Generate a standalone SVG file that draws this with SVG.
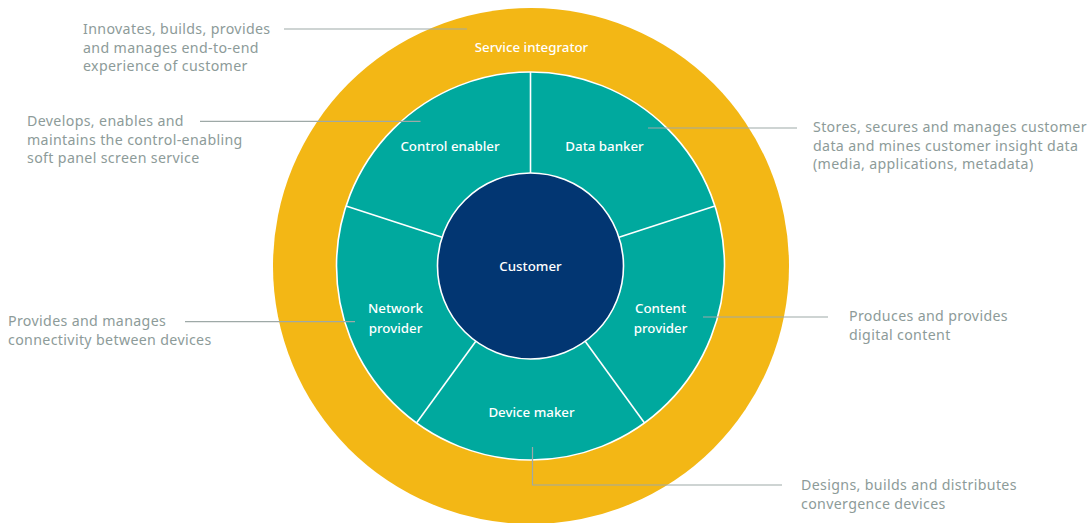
<svg xmlns="http://www.w3.org/2000/svg" width="1087" height="523" viewBox="0 0 1087 523">
  <style>
    .desc { font-family: "Noto Sans", "Liberation Sans", sans-serif; font-size: 14.2px; letter-spacing: 0.35px; fill: #8D9B99; }
    .label { font-family: "Noto Sans", "Liberation Sans", sans-serif; font-size: 13.3px; font-weight: 500; fill: #FFFFFF; text-anchor: middle; }
    .leader { stroke: #9EA9A7; stroke-width: 1.2; fill: none; }
    .divider { stroke: #FFFFFF; stroke-width: 1.6; }
  </style>
  <rect width="1087" height="523" fill="#FFFFFF"/>

  <!-- Outer ring: service integrator -->
  <g id="service-integrator">
    <circle cx="531" cy="266" r="258" fill="#F3B715"/>
    <text class="label" x="531.5" y="51.5">Service integrator</text>
  </g>

  <!-- Middle ring of five roles -->
  <g id="role-ring">
    <circle cx="530.5" cy="266" r="194" fill="#00A99E" stroke="#FFFFFF" stroke-width="1.6"/>
    <line class="divider" x1="530.5" y1="173" x2="530.5" y2="72"/>
    <line class="divider" x1="618.95" y1="237.26" x2="715" y2="206.05"/>
    <line class="divider" x1="585.17" y1="341.24" x2="644.53" y2="422.95"/>
    <line class="divider" x1="475.83" y1="341.24" x2="416.47" y2="422.95"/>
    <line class="divider" x1="442.05" y1="237.26" x2="346" y2="206.05"/>
  </g>
  <g id="control-enabler"><text class="label" x="450" y="151">Control enabler</text></g>
  <g id="data-banker"><text class="label" x="604.5" y="151">Data banker</text></g>
  <g id="network-provider"><text class="label" x="395.5" y="313">Network</text><text class="label" x="395.5" y="333">provider</text></g>
  <g id="content-provider"><text class="label" x="660.5" y="313">Content</text><text class="label" x="660.5" y="333">provider</text></g>
  <g id="device-maker"><text class="label" x="531.5" y="416.5">Device maker</text></g>

  <!-- Core -->
  <g id="customer">
    <circle cx="530.5" cy="266" r="93" fill="#023672" stroke="#FFFFFF" stroke-width="1.6"/>
    <text class="label" x="530.5" y="271">Customer</text>
  </g>

  <!-- Leader lines to the role descriptions -->
  <g id="connectors">
    <line class="leader" x1="284" y1="29" x2="467" y2="29" stroke="#B5BFBD" stroke-width="1.5"/>
    <line class="leader" x1="200" y1="121.3" x2="420.5" y2="121.3"/>
    <line class="leader" x1="648" y1="128" x2="797" y2="128"/>
    <line class="leader" x1="185" y1="321.7" x2="355" y2="321.7"/>
    <line class="leader" x1="703" y1="317" x2="828" y2="317"/>
    <polyline class="leader" points="532.5,447 532.5,485 782,485"/>
  </g>

  <!-- Role descriptions -->
  <g id="desc-service-integrator">
    <text class="desc" x="83" y="34">Innovates, builds, provides</text>
    <text class="desc" x="83" y="52.5">and manages end-to-end</text>
    <text class="desc" x="83" y="71">experience of customer</text>
  </g>
  <g id="desc-control-enabler">
    <text class="desc" x="27" y="126">Develops, enables and</text>
    <text class="desc" x="27" y="144.5">maintains the control-enabling</text>
    <text class="desc" x="27" y="163">soft panel screen service</text>
  </g>
  <g id="desc-data-banker">
    <text class="desc" x="813" y="132">Stores, secures and manages customer</text>
    <text class="desc" x="813" y="150.5">data and mines customer insight data</text>
    <text class="desc" x="813" y="169">(media, applications, metadata)</text>
  </g>
  <g id="desc-network-provider">
    <text class="desc" x="8" y="326">Provides and manages</text>
    <text class="desc" x="8" y="344.5">connectivity between devices</text>
  </g>
  <g id="desc-content-provider">
    <text class="desc" x="849" y="321">Produces and provides</text>
    <text class="desc" x="849" y="339.5">digital content</text>
  </g>
  <g id="desc-device-maker">
    <text class="desc" x="801" y="490">Designs, builds and distributes</text>
    <text class="desc" x="801" y="508.5">convergence devices</text>
  </g>
</svg>
